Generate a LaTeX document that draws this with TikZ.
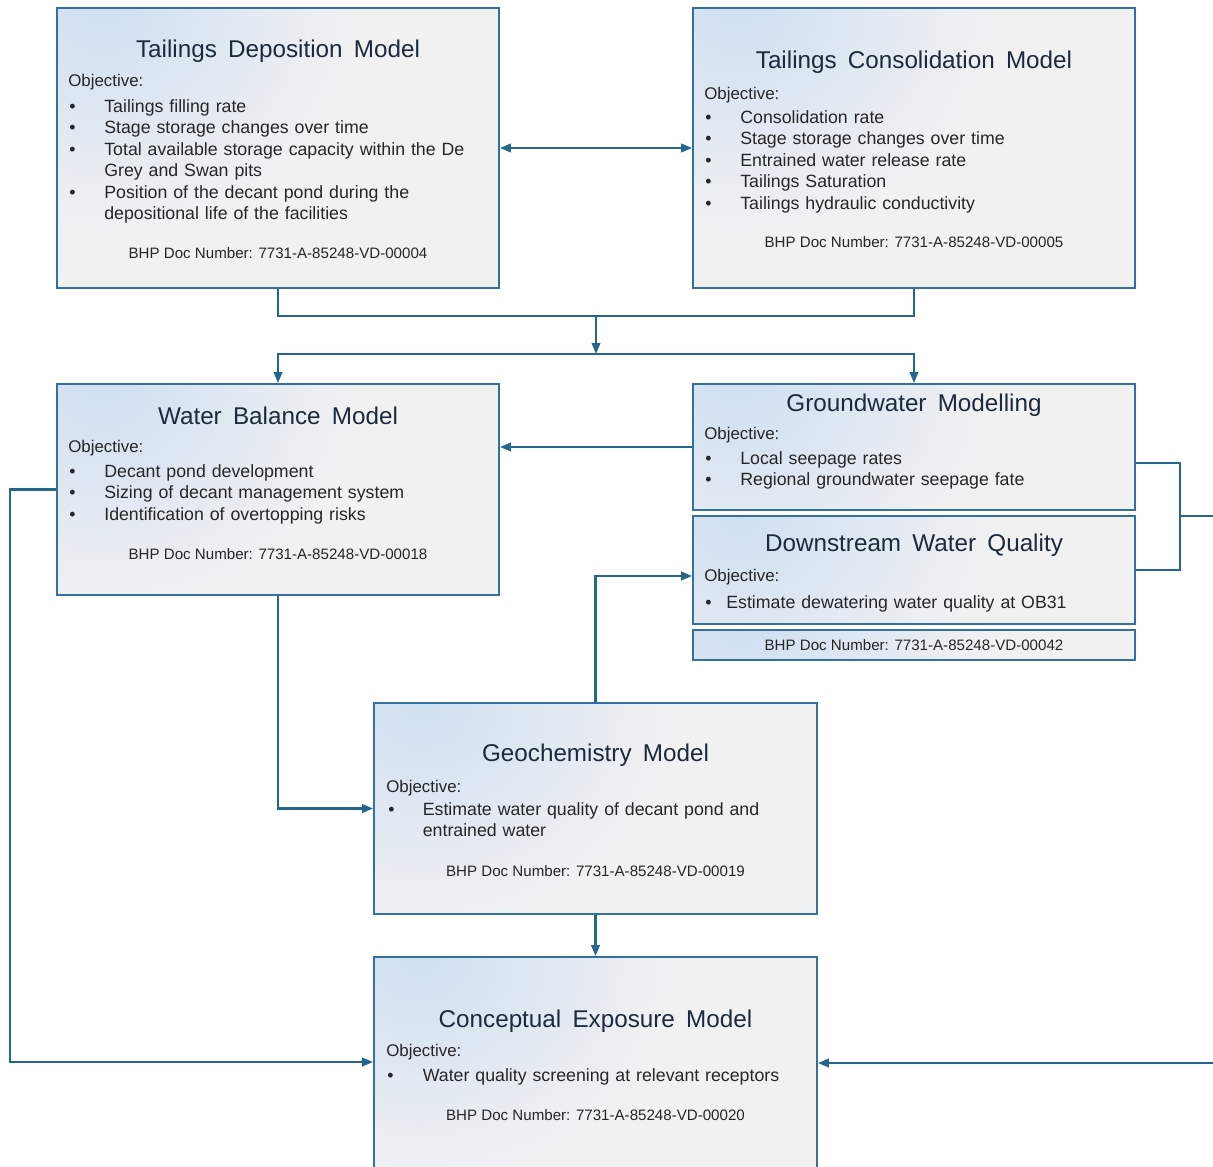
\documentclass[tikz,border=0pt]{standalone}
\usepackage{fontspec}
\setmainfont{Liberation Sans}
\usetikzlibrary{arrows.meta}
\definecolor{boxfill}{HTML}{F1F1F2}
\definecolor{cornerblue}{HTML}{CFDFF1}
\definecolor{bordc}{HTML}{3470A0}
\definecolor{linec}{HTML}{24668E}
\definecolor{titlec}{HTML}{1B2B3D}
\definecolor{bodyc}{HTML}{262626}
\pgfdeclareradialshading{cornershade}{\pgfpoint{0bp}{0bp}}{color(0bp)=(cornerblue); color(16bp)=(boxfill); color(50bp)=(boxfill)}
\newcommand\bitem[2][0.7cm]{\hangindent #1\hangafter 1\noindent\makebox[#1][l]{\textbullet}#2\par}
\newcommand\titlefont{\fontsize{13.8}{16}\selectfont\spaceskip 6.4pt\relax}
\newcommand\listfont{\fontsize{10.1}{12.2}\selectfont\parindent 0pt\relax}
\begin{document}
\begin{tikzpicture}[x=0.02cm,y=-0.02cm,
  mbox/.style={draw=bordc, line width=1.1pt, fill=boxfill, inner sep=0pt, minimum width=8.84cm,
    path picture={\shade[shading=cornershade] (path picture bounding box.north west) circle (7cm);}},
  ttl/.style={font=\titlefont, text=titlec, inner sep=0pt, anchor=base},
  obj/.style={font=\fontsize{9.6}{12}\selectfont, text=bodyc, inner sep=0pt, anchor=base west},
  lst/.style={font=\listfont, text=bodyc, inner sep=0pt, anchor=base west, text width=9cm, align=left},
  docn/.style={font=\fontsize{8.6}{10}\selectfont, text=bodyc, inner sep=0pt, anchor=base},
  conn/.style={draw=linec, line width=1.3pt},
  arr/.style={conn, -{Triangle[length=2.2mm,width=1.7mm]}},
  arrtwo/.style={conn, {Triangle[length=2.2mm,width=1.7mm]}-{Triangle[length=2.2mm,width=1.7mm]}},
]
\useasboundingbox (0,0) rectangle (1213,1166);
\clip (0,0) rectangle (1213,1166);
\fill[white] (0,0) rectangle (1213,1166);

% Tailings Deposition Model
\node[mbox, minimum height=5.6cm] (tdm) at (278,148) {};
\node[ttl] (tdmT) at (278,57.5) {Tailings Deposition Model};
\node[obj] (tdmO) at (68,87) {Objective:};
\node[lst] (tdmL) at (69,112.5) {\bitem{Tailings filling rate}\bitem{Stage storage changes over time}\bitem{Total available storage capacity within the De\newline Grey and Swan pits}\bitem{Position of the decant pond during the\newline depositional life of the facilities}};
\node[docn] (tdmD) at (278,258.5) {BHP Doc Number: 7731-A-85248-VD-00004};

% Tailings Consolidation Model
\node[mbox, minimum height=5.6cm] (tcm) at (914,148) {};
\node[ttl] (tcmT) at (914,68.5) {Tailings Consolidation Model};
\node[obj] (tcmO) at (704,99) {Objective:};
\node[lst] (tcmL) at (705,123.5) {\bitem{Consolidation rate}\bitem{Stage storage changes over time}\bitem{Entrained water release rate}\bitem{Tailings Saturation}\bitem{Tailings hydraulic conductivity}};
\node[docn] (tcmD) at (914,247.5) {BHP Doc Number: 7731-A-85248-VD-00005};

% Water Balance Model
\node[mbox, minimum height=4.22cm] (wbm) at (278,489.5) {};
\node[ttl] (wbmT) at (278,424.5) {Water Balance Model};
\node[obj] (wbmO) at (68,452.5) {Objective:};
\node[lst] (wbmL) at (69,477.5) {\bitem{Decant pond development}\bitem{Sizing of decant management system}\bitem{Identification of overtopping risks}};
\node[docn] (wbmD) at (278,559) {BHP Doc Number: 7731-A-85248-VD-00018};

% Groundwater Modelling
\node[mbox, minimum height=2.52cm] (gwm) at (914,447) {};
\node[ttl] (gwmT) at (914,411) {Groundwater Modelling};
\node[obj] (gwmO) at (704,439.5) {Objective:};
\node[lst] (gwmL) at (705,464) {\bitem{Local seepage rates}\bitem{Regional groundwater seepage fate}};

% Downstream Water Quality
\node[mbox, minimum height=2.16cm] (dwq) at (914,570) {};
\node[ttl] (dwqT) at (914,551.7) {Downstream Water Quality};
\node[obj] (dwqO) at (704,581.7) {Objective:};
\node[lst] (dwqL) at (705,608.3) {\bitem[0.42cm]{Estimate dewatering water quality at OB31}};
\node[mbox, minimum height=0.6cm] (dwqbox) at (914,645) {};
\node[docn] (dwqD) at (914,650.7) {BHP Doc Number: 7731-A-85248-VD-00042};

% Geochemistry Model
\node[mbox, minimum width=8.86cm, minimum height=4.22cm] (geo) at (595.5,808.5) {};
\node[ttl] (geoT) at (595.5,761.7) {Geochemistry Model};
\node[obj] (geoO) at (386,792.5) {Objective:};
\node[lst] (geoL) at (388,815) {\bitem[0.69cm]{Estimate water quality of decant pond and\newline entrained water}};
\node[docn] (geoD) at (595.5,876) {BHP Doc Number: 7731-A-85248-VD-00019};

% Conceptual Exposure Model
\node[mbox, minimum width=8.86cm, minimum height=4.46cm] (cem) at (595.5,1068.5) {};
\node[ttl] (cemT) at (595.5,1027.5) {Conceptual Exposure Model};
\node[obj] (cemO) at (386,1056.7) {Objective:};
\node[lst] (cemL) at (387,1081.7) {\bitem[0.71cm]{Water quality screening at relevant receptors}};
\node[docn] (cemD) at (595.5,1120) {BHP Doc Number: 7731-A-85248-VD-00020};

% connectors
\draw[arrtwo] (tdm.east) -- (tcm.west);
\coordinate (j1) at (596,316);
\coordinate (j2) at (596,354);
\draw[conn] (tdm.south) |- (j1) -| (tcm.south);
\draw[arr] (j1) -- (j2);
\draw[arr] (j2) -| (wbm.north);
\draw[arr] (j2) -| (gwm.north);
\draw[arr] (gwm.west) -- (gwm.west -| wbm.east);

\coordinate (bk1) at (1180,463);
\coordinate (bk2) at (1180,570);
\coordinate (bkm) at (1180,516);
\coordinate (rt1) at (1220,516);
\coordinate (rt2) at (1220,1063);
\draw[conn] (gwm.east |- bk1) -- (bk1) -- (bk2) -- (dwq.east |- bk2);
\draw[arr] (bkm) -- (rt1) -- (rt2) -- (rt2 -| cem.east);

\coordinate (dq) at (595.5,576);
\draw[arr] (geo.north) -- (dq) -- (dq -| dwq.west);
\draw[arr] (wbm.south) |- (geo.west);
\draw[arr] (geo.south) -- (cem.north);
\coordinate (lf) at (10,1062);
\draw[arr] (wbm.west) -| (lf) -- (lf -| cem.west);
\end{tikzpicture}
\end{document}
